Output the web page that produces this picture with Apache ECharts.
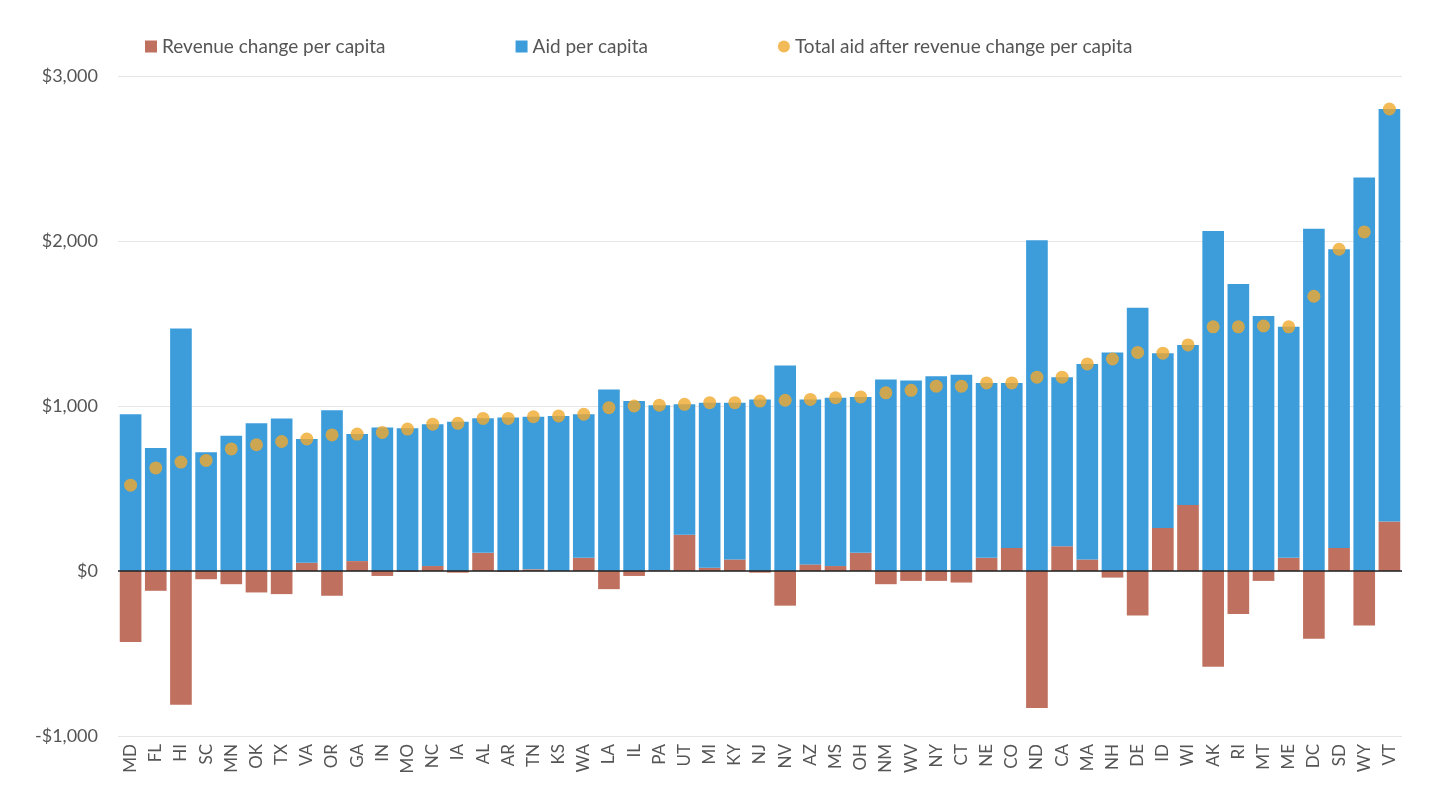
<!DOCTYPE html>
<html><head><meta charset="utf-8">
<script src="https://cdn.jsdelivr.net/npm/echarts@6/dist/echarts.min.js"></script>
<style>html,body{margin:0;background:#fff}#c{width:1456px;height:808px}</style>
</head><body><div id="c"></div>
<script>
var states = ['MD','FL','HI','SC','MN','OK','TX','VA','OR','GA','IN','MO','NC','IA','AL','AR','TN','KS','WA','LA','IL','PA','UT','MI','KY','NJ','NV','AZ','MS','OH','NM','WV','NY','CT','NE','CO','ND','CA','MA','NH','DE','ID','WI','AK','RI','MT','ME','DC','SD','WY','VT'];
var revenueChange = [-430,-120,-810,-50,-80,-130,-140,50,-150,60,-30,-5,30,-10,110,-5,10,0,80,-110,-30,5,220,20,70,-10,-210,40,30,110,-80,-60,-60,-70,80,140,-830,150,70,-40,-270,260,400,-580,-260,-60,80,-410,140,-330,300];
var aid = [950,745,1470,720,820,895,925,750,975,770,870,865,860,905,815,930,925,940,870,1100,1030,1000,790,1000,950,1040,1245,1000,1020,945,1160,1155,1180,1190,1060,1000,2005,1025,1185,1325,1595,1060,970,2060,1740,1545,1400,2075,1810,2385,2500];
var totalAfter = aid.map(function (v, i) { return v + revenueChange[i]; });

var chart = echarts.init(document.getElementById('c'));
var font = 'Lato, "Open Sans", sans-serif';
chart.setOption({
    textStyle: { fontFamily: font },
    legend: {
        top: 32, left: 140, itemGap: 130, itemWidth: 12, itemHeight: 12,
        textStyle: { fontSize: 19, color: '#555', fontFamily: font },
        data: [
            { name: 'Revenue change per capita', icon: 'rect' },
            { name: 'Aid per capita', icon: 'rect' },
            { name: 'Total aid after revenue change per capita', icon: 'circle' }
        ]
    },
    grid: { left: 118, right: 54, top: 76, bottom: 72 },
    xAxis: {
        type: 'category', data: states,
        axisLine: { show: false }, axisTick: { show: false },
        axisLabel: { rotate: 90, fontSize: 17, color: '#555', interval: 0 }
    },
    yAxis: {
        type: 'value', min: -1000, max: 3000, interval: 1000,
        axisLine: { show: false }, axisTick: { show: false },
        splitLine: { lineStyle: { color: '#e6e6e6' } },
        axisLabel: {
            fontSize: 18, color: '#555', margin: 20,
            formatter: function (v) { return (v < 0 ? '-$' : '$') + Math.abs(v).toLocaleString('en-US'); }
        }
    },
    series: [
        {
            name: 'Revenue change per capita', type: 'bar', stack: 'a', barCategoryGap: '14%',
            itemStyle: { color: '#c0705e' }, data: revenueChange,
            markLine: { silent: true, symbol: 'none', label: { show: false },
                lineStyle: { color: '#222', type: 'solid', width: 1.5 }, data: [{ yAxis: 0 }] }
        },
        {
            name: 'Aid per capita', type: 'bar', stack: 'a',
            itemStyle: { color: '#3d9ddb' }, data: aid
        },
        {
            name: 'Total aid after revenue change per capita', type: 'scatter',
            symbolSize: 13, itemStyle: { color: '#f0a92e' }, data: totalAfter, z: 5
        }
    ]
});
</script></body></html>
